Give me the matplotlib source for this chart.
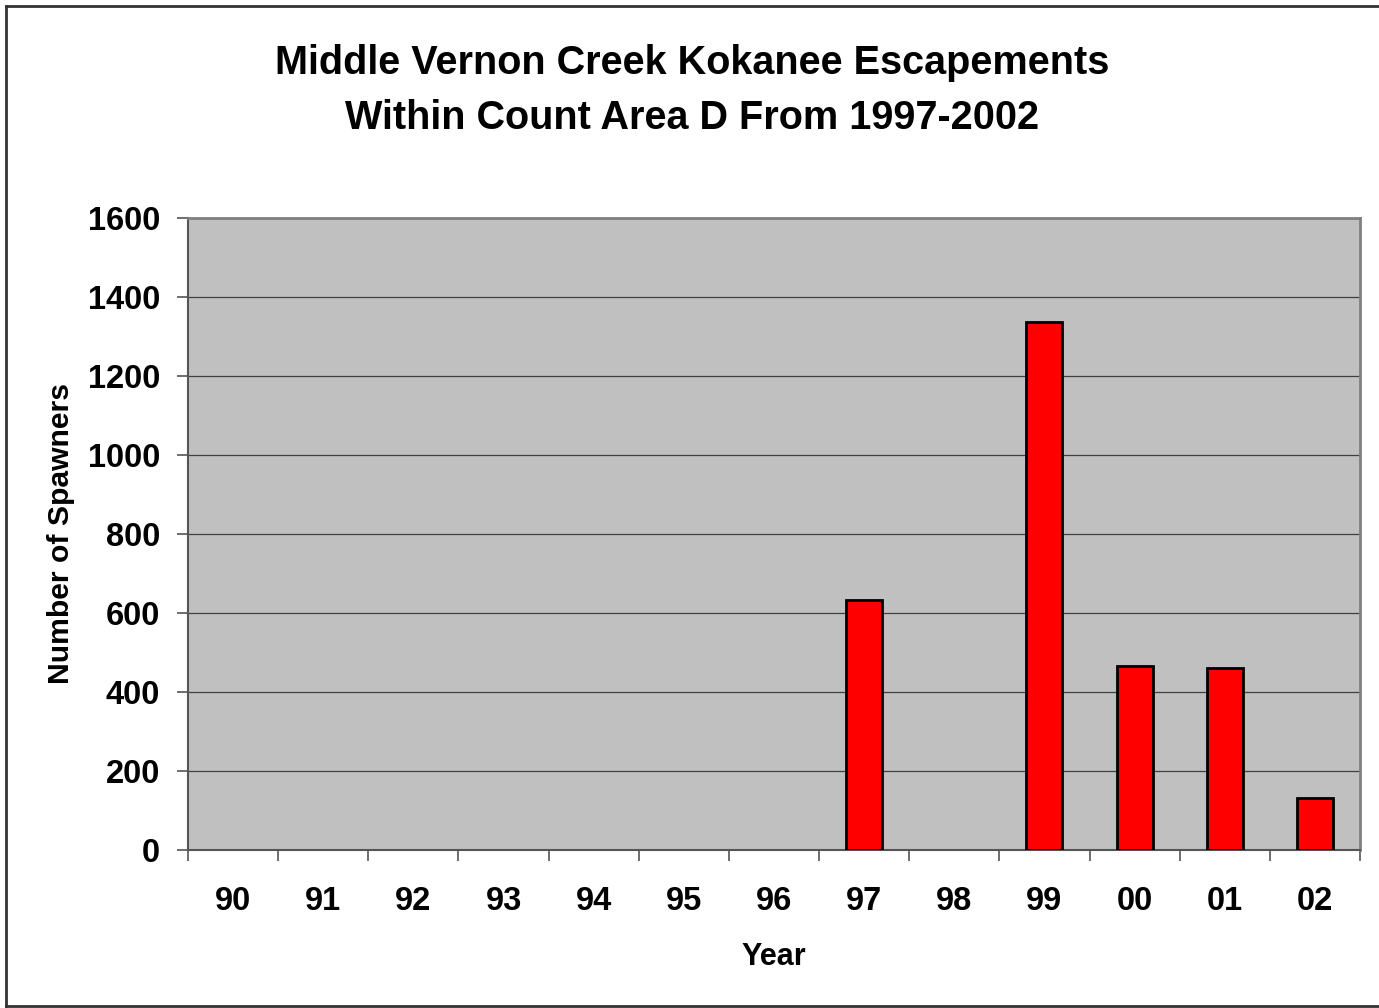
import numpy as np
import matplotlib.pyplot as plt

plt.rcParams['font.family'] = ['Liberation Sans', 'DejaVu Sans']
plt.rcParams['font.weight'] = 'bold'

years = ['90', '91', '92', '93', '94', '95', '96', '97', '98', '99', '00', '01', '02']
spawners = [0, 0, 0, 0, 0, 0, 0, 634, 0, 1337, 466, 461, 132]

fig = plt.figure(figsize=(13.79, 10.08), dpi=100)
ax = fig.add_axes([188 / 1379, 1 - 850 / 1008, (1360 - 188) / 1379, (850 - 218) / 1008])

# frame around the whole figure (open on the right)
edge = dict(transform=fig.transFigure, color='#333333', lw=2)
fig.add_artist(plt.Line2D([5.5 / 1379, 5.5 / 1379], [1 - 5.5 / 1008, 1 - 1006 / 1008], **edge))
fig.add_artist(plt.Line2D([5.5 / 1379, 1.0], [1 - 5.5 / 1008, 1 - 5.5 / 1008], **edge))
fig.add_artist(plt.Line2D([5.5 / 1379, 1.0], [1 - 1006 / 1008, 1 - 1006 / 1008], **edge))

x = np.arange(len(years))
vals = np.array(spawners)
mask = vals > 0
ax.bar(x[mask], vals[mask], width=0.4, color='#ff0000', edgecolor='black', linewidth=2, zorder=3)

ax.set_facecolor('#c0c0c0')
ax.set_xlim(-0.5, len(years) - 0.5)
ax.set_ylim(0, 1600)
ax.set_yticks(np.arange(0, 1601, 200))
ax.yaxis.grid(True, color='#404040', lw=0.9)
ax.set_axisbelow(True)

ax.set_xticks(x)
ax.set_xticklabels(years, fontsize=23.5, fontweight='bold')
ax.set_xticks(np.arange(-0.5, len(years)), minor=True)
ax.tick_params(axis='x', which='major', length=0, pad=26)
ax.tick_params(axis='x', which='minor', length=8, width=1.2, color='#555555')
ax.tick_params(axis='y', length=8, width=1.2, color='#555555', labelsize=23.5, pad=12)
for lab in ax.get_yticklabels():
    lab.set_fontweight('bold')

for side in ['left', 'bottom']:
    ax.spines[side].set_color('#555555')
    ax.spines[side].set_linewidth(1.5)
for side in ['top', 'right']:
    ax.spines[side].set_color('#808080')
    ax.spines[side].set_linewidth(2)

ax.set_xlabel('Year', fontsize=22, fontweight='bold', labelpad=18)
ax.set_ylabel('Number of Spawners', fontsize=21.7, fontweight='bold', labelpad=9)

fig.text(692 / 1379, 1 - 90.5 / 1008, 'Middle Vernon Creek Kokanee Escapements\nWithin Count Area D From 1997-2002',
         ha='center', va='center', fontsize=28.5, fontweight='bold', linespacing=1.55)

fig.savefig('out.png', dpi=100)
